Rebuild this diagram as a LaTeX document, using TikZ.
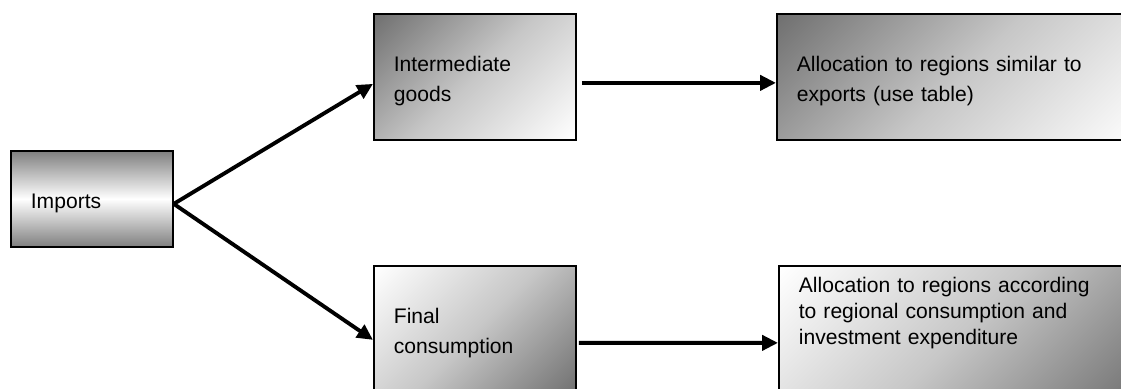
\documentclass[tikz,border=0pt]{standalone}
\usepackage{fontspec}
\setmainfont{Liberation Sans}
\usepackage{tikz}
\usetikzlibrary{arrows.meta}
\usetikzlibrary{positioning}
\pgfdeclareverticalshading{wordfade}{100bp}{color(0bp)=(white); color(15bp)=(white); color(50bp)=(black!22); color(85bp)=(black!56); color(100bp)=(black!56)}
\tikzset{box/.style={draw,line width=1pt,anchor=north west,align=left,inner ysep=0pt,inner xsep=0.4cm,font=\fontsize{12}{17}\selectfont},
darkfirst/.style={shading=wordfade,shading angle=45},
lightfirst/.style={shading=wordfade,shading angle=225},
bandbox/.style={top color=black!50,bottom color=black!50,middle color=white},
flow/.style={line width=2.2pt,-{Triangle[length=9pt,width=8.5pt]}}}

\begin{document}
\begin{tikzpicture}
\useasboundingbox (0,0) rectangle (22.42,7.76);
\node (imp) at (0.2,4.76) [box,bandbox,text width=2.44cm,text height=1.16cm,text depth=0.76cm] {Imports};
\node (inter) at (7.46,7.5) [box,darkfirst,text width=3.24cm,text height=1.16cm,text depth=1.36cm] {Intermediate\\goods};
\node (exp) at (15.52,7.5) [box,darkfirst,text width=6.6cm,text height=1.16cm,text depth=1.36cm] {Allocation to regions similar to\\exports (use table)};
\node (fin) at (7.46,2.46) [box,lightfirst,text width=3.24cm,text height=1.16cm,text depth=1.44cm] {Final\\consumption};
\node (reg) at (15.56,2.46) [box,lightfirst,text width=6.6cm,text height=0.54cm,text depth=2.06cm,font=\fontsize{12}{14.6}\selectfont] {Allocation to regions according\\to regional consumption and\\investment expenditure};
\draw[flow] ([yshift=-0.1cm]imp.east) -- ([yshift=-0.14cm]inter.west);
\draw[flow] ([yshift=-0.1cm]imp.east) -- ([yshift=-0.18cm]fin.west);
\draw[flow] ([shift={(0.1,-0.12)}]inter.east) -- ([yshift=-0.12cm]exp.west);
\draw[flow] ([shift={(0.04,-0.24)}]fin.east) -- ([yshift=-0.24cm]reg.west);
\end{tikzpicture}
\end{document}
